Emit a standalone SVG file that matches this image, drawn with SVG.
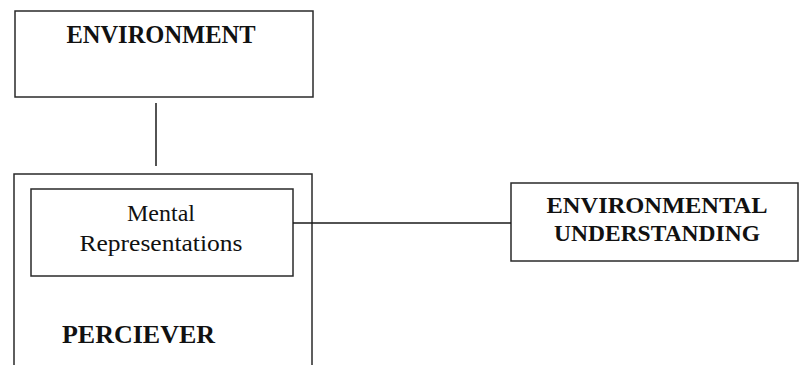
<svg xmlns="http://www.w3.org/2000/svg" width="799" height="365" viewBox="0 0 799 365">
  <style>
    .box { fill: #ffffff; stroke: #2a2a2a; stroke-width: 1.5; }
    .link { fill: none; stroke: #1a1a1a; stroke-width: 1.5; }
    .bold { font-family: "Liberation Serif", "Times New Roman", serif; font-weight: bold; fill: #111; }
    .reg { font-family: "Liberation Serif", "Times New Roman", serif; fill: #111; }
  </style>
  <rect width="799" height="365" fill="#ffffff"/>

  <g id="environment">
    <rect class="box" x="15" y="11" width="298" height="86"/>
    <text class="bold" x="161" y="43" font-size="24.5" text-anchor="middle">ENVIRONMENT</text>
  </g>

  <g id="perceiver">
    <rect class="box" x="14" y="174" width="298" height="200"/>
    <text class="bold" x="62" y="343" font-size="25" textLength="153" lengthAdjust="spacingAndGlyphs">PERCIEVER</text>
  </g>

  <g id="mental-representations">
    <rect class="box" x="31" y="189" width="262" height="87"/>
    <text class="reg" x="161" y="221" font-size="24" text-anchor="middle">Mental</text>
    <text class="reg" x="161" y="251" font-size="24" text-anchor="middle" textLength="163" lengthAdjust="spacingAndGlyphs">Representations</text>
  </g>

  <g id="environmental-understanding">
    <rect class="box" x="511" y="183" width="287" height="78"/>
    <text class="bold" x="657" y="213" font-size="22.5" text-anchor="middle" textLength="221" lengthAdjust="spacingAndGlyphs">ENVIRONMENTAL</text>
    <text class="bold" x="657" y="241" font-size="22.5" text-anchor="middle" textLength="206" lengthAdjust="spacingAndGlyphs">UNDERSTANDING</text>
  </g>

  <!-- links drawn last so they cross the perceiver outline -->
  <g id="connectors">
    <line class="link" x1="156" y1="103" x2="156" y2="166"/>
    <line class="link" x1="293" y1="223" x2="511" y2="223"/>
  </g>
</svg>
